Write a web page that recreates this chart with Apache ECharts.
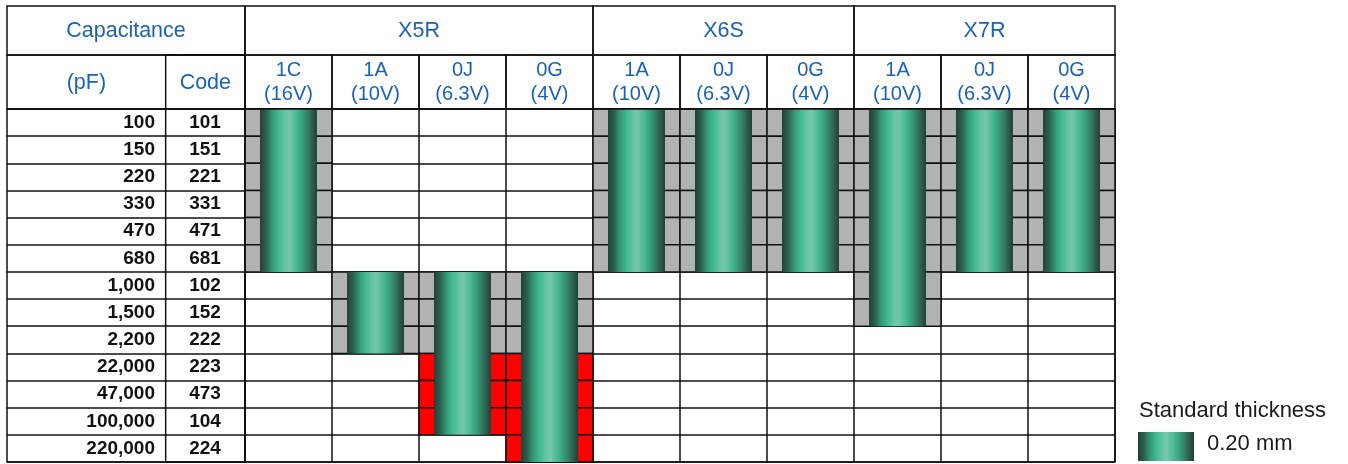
<!DOCTYPE html>
<html><head><meta charset="utf-8">
<script src="https://cdn.jsdelivr.net/npm/echarts@6/dist/echarts.min.js"></script>
<style>html,body{margin:0;padding:0;background:#fff}#c{width:1348px;height:464px}</style>
</head><body><div id="c"></div>
<script>
// ---------------- data ----------------
const headerLabels = ['Capacitance', '(pF)', 'Code'];
const groupNames = ['X5R', 'X6S', 'X7R'];
const groupFirstCol = [0, 4, 7];
const groupLastCol = [3, 6, 9];
const voltageLabels = ['1C\n(16V)', '1A\n(10V)', '0J\n(6.3V)', '0G\n(4V)', '1A\n(10V)', '0J\n(6.3V)', '0G\n(4V)', '1A\n(10V)', '0J\n(6.3V)', '0G\n(4V)'];
const capacitancePF = ['100', '150', '220', '330', '470', '680', '1,000', '1,500', '2,200', '22,000', '47,000', '100,000', '220,000'];
const capCodes = ['101', '151', '221', '331', '471', '681', '102', '152', '222', '223', '473', '104', '224'];
// grey (standard) cells: column, first row, last row
const greyCol = [0, 1, 2, 3, 4, 5, 6, 7, 8, 9];
const greyFirstRow = [0, 6, 6, 6, 0, 0, 0, 0, 0, 0];
const greyLastRow = [5, 8, 8, 8, 5, 5, 5, 7, 5, 5];
// red cells: column, first row, last row
const redCol = [2, 3];
const redFirstRow = [9, 9];
const redLastRow = [11, 12];
// 0.20 mm thickness bars: column, first row, last row
const barCol = [0, 1, 2, 3, 4, 5, 6, 7, 8, 9];
const barFirstRow = [0, 6, 6, 6, 0, 0, 0, 0, 0, 0];
const barLastRow = [5, 8, 11, 12, 5, 5, 5, 7, 5, 5];
const legendTitle = 'Standard thickness';
const legendLabel = '0.20 mm';

// ---------------- style ----------------
const BLUE = '#1a62b7';
const LINE = '#111';
const LW = 1.5;
const GREY = '#b2b2b2';
const RED = '#ff0000';
const HEAD1 = 49, HEAD2 = 54;
const FONT = 'Liberation Sans, Arial, sans-serif';
const HFS = 21.5;
function barGradient() {
  return new echarts.graphic.LinearGradient(0, 0, 1, 0, [
    {offset: 0, color: '#22403a'}, {offset: 0.1, color: '#2b5e4d'},
    {offset: 0.22, color: '#359a78'}, {offset: 0.33, color: '#3fbb92'},
    {offset: 0.45, color: '#6cc3a7'}, {offset: 0.52, color: '#74c6ab'},
    {offset: 0.62, color: '#4fbb98'}, {offset: 0.72, color: '#3aa584'},
    {offset: 0.84, color: '#347a64'}, {offset: 1, color: '#233f36'}
  ]);
}

// expand ranges to cells
function cells(cols, first, last, kind) {
  const out = [];
  cols.forEach((c, i) => { for (let r = first[i]; r <= last[i]; r++) out.push([c, r, kind]); });
  return out;
}
const cellData = cells(greyCol, greyFirstRow, greyLastRow, 0).concat(cells(redCol, redFirstRow, redLastRow, 1));
const barData = barCol.map((c, i) => [c, barFirstRow[i], barLastRow[i]]);
const groupData = groupNames.map((n, i) => [groupFirstCol[i], groupLastCol[i], 0]);
const colHeadData = voltageLabels.map((v, i) => [i, 0]);

const chart = echarts.init(document.getElementById('c'), null, {renderer: 'canvas'});
const option = {
  animation: false,
  textStyle: {fontFamily: FONT},
  grid: [
    {left: 245, top: 109, width: 870, height: 353, show: true, borderColor: LINE, borderWidth: LW, backgroundColor: 'transparent'},
    {left: 7, top: 109, width: 238, height: 353, show: true, borderColor: LINE, borderWidth: LW, backgroundColor: 'transparent'}
  ],
  xAxis: [
    {type: 'category', gridIndex: 0, position: 'top', data: voltageLabels,
     axisLine: {show: false}, axisTick: {show: false},
     axisLabel: {interval: 0, color: BLUE, fontSize: 20, lineHeight: 24.5, verticalAlign: 'middle', margin: 26.5, fontFamily: FONT},
     splitLine: {show: true, interval: 0, lineStyle: {color: LINE, width: LW}}},
    {type: 'category', gridIndex: 1, data: ['a', 'b', 'c'], show: true,
     axisLine: {show: false}, axisTick: {show: false}, axisLabel: {show: false}, splitLine: {show: false}}
  ],
  yAxis: [
    {type: 'category', gridIndex: 0, inverse: true, position: 'left', data: capacitancePF,
     axisLine: {show: false}, axisTick: {show: false},
     axisLabel: {interval: 0, color: '#111', fontWeight: 'bold', fontSize: 19, margin: 90, align: 'right', fontFamily: FONT},
     splitLine: {show: true, interval: 0, lineStyle: {color: LINE, width: LW}}},
    {type: 'category', gridIndex: 0, inverse: true, position: 'left', offset: 0, data: capCodes,
     axisLine: {show: false}, axisTick: {show: false},
     axisLabel: {interval: 0, color: '#111', fontWeight: 'bold', fontSize: 19, margin: 40, align: 'center', fontFamily: FONT},
     splitLine: {show: false}},
    {type: 'category', gridIndex: 1, inverse: true, data: capacitancePF,
     axisLine: {show: false}, axisTick: {show: false}, axisLabel: {show: false},
     splitLine: {show: true, interval: 0, lineStyle: {color: LINE, width: LW}}}
  ],
  series: [
    { // grey / red availability cells
      type: 'custom', xAxisIndex: 0, yAxisIndex: 0, z: 2, clip: false,
      data: cellData, encode: {x: 0, y: 1},
      renderItem: function (params, api) {
        const p = api.coord([api.value(0), api.value(1)]);
        const s = api.size([1, 1]);
        return {type: 'rect', shape: {x: p[0] - s[0] / 2, y: p[1] - s[1] / 2, width: s[0], height: s[1]},
          style: {fill: api.value(2) === 1 ? RED : GREY, stroke: LINE, lineWidth: LW}};
      }
    },
    { // 0.20 mm thickness bars
      type: 'custom', xAxisIndex: 0, yAxisIndex: 0, z: 4, clip: false,
      data: barData, encode: {x: 0, y: [1, 2]},
      renderItem: function (params, api) {
        const s = api.size([1, 1]);
        const top = api.coord([api.value(0), api.value(1)]);
        const bot = api.coord([api.value(0), api.value(2)]);
        const w = s[0] * 0.655;
        return {type: 'rect', shape: {x: top[0] - w / 2, y: top[1] - s[1] / 2, width: w, height: bot[1] - top[1] + s[1]},
          style: {fill: barGradient()}};
      }
    },
    { // group header cells (X5R, X6S, X7R)
      type: 'custom', xAxisIndex: 0, yAxisIndex: 0, z: 5, clip: false,
      data: groupData, encode: {x: [0, 1]},
      renderItem: function (params, api) {
        const s = api.size([1, 1]);
        const cs = params.coordSys;
        const x0 = api.coord([api.value(0), 0])[0] - s[0] / 2;
        const x1 = api.coord([api.value(1), 0])[0] + s[0] / 2;
        const y0 = cs.y - HEAD2 - HEAD1;
        return {type: 'group', children: [
          {type: 'rect', shape: {x: x0, y: y0, width: x1 - x0, height: HEAD1}, style: {fill: 'transparent', stroke: LINE, lineWidth: LW}},
          {type: 'text', style: {text: groupNames[params.dataIndex], x: (x0 + x1) / 2, y: y0 + HEAD1 / 2 + 1, align: 'center', verticalAlign: 'middle', fill: BLUE, fontSize: HFS, fontFamily: FONT}}
        ]};
      }
    },
    { // voltage header cells borders
      type: 'custom', xAxisIndex: 0, yAxisIndex: 0, z: 5, clip: false,
      data: colHeadData, encode: {x: 0, y: 1},
      renderItem: function (params, api) {
        const s = api.size([1, 1]);
        const cs = params.coordSys;
        const x = api.coord([api.value(0), 0])[0] - s[0] / 2;
        return {type: 'rect', shape: {x: x, y: cs.y - HEAD2, width: s[0], height: HEAD2}, style: {fill: 'transparent', stroke: LINE, lineWidth: LW}};
      }
    },
    { // left header cells
      type: 'custom', xAxisIndex: 1, yAxisIndex: 2, z: 5, clip: false,
      data: [[0, 0]], encode: {x: 0, y: 1},
      renderItem: function (params, api) {
        const s = api.size([1, 1]);
        const cs = params.coordSys;
        const xDiv = api.coord([2, 0])[0] - s[0] / 2;
        const y0 = cs.y - HEAD2 - HEAD1;
        const t = (txt, x, y) => ({type: 'text', style: {text: txt, x: x, y: y, align: 'center', verticalAlign: 'middle', fill: BLUE, fontSize: HFS, fontFamily: FONT}});
        return {type: 'group', children: [
          {type: 'rect', shape: {x: cs.x, y: y0, width: cs.width, height: HEAD1}, style: {fill: 'transparent', stroke: LINE, lineWidth: LW}},
          {type: 'rect', shape: {x: cs.x, y: cs.y - HEAD2, width: cs.width, height: HEAD2}, style: {fill: 'transparent', stroke: LINE, lineWidth: LW}},
          {type: 'rect', shape: {x: xDiv, y: cs.y - HEAD2, width: cs.x + cs.width - xDiv, height: HEAD2 + cs.height}, style: {fill: 'transparent', stroke: LINE, lineWidth: LW}},
          t(headerLabels[0], cs.x + cs.width / 2, y0 + HEAD1 / 2 + 1),
          t(headerLabels[1], (cs.x + xDiv) / 2, cs.y - HEAD2 / 2 + 1),
          t(headerLabels[2], (xDiv + cs.x + cs.width) / 2, cs.y - HEAD2 / 2 + 1)
        ]};
      }
    }
  ],
  graphic: [
    {type: 'text', x: 1139, y: 411, style: {text: legendTitle, fill: '#1a1a1a', fontSize: 22, fontFamily: FONT, verticalAlign: 'middle'}},
    {type: 'rect', left: 1138, top: 432, shape: {width: 56, height: 29}, style: {fill: barGradient()}},
    {type: 'text', x: 1207, y: 444, style: {text: legendLabel, fill: '#1a1a1a', fontSize: 22, fontFamily: FONT, verticalAlign: 'middle'}}
  ]
};
chart.setOption(option);
</script>
</body></html>
